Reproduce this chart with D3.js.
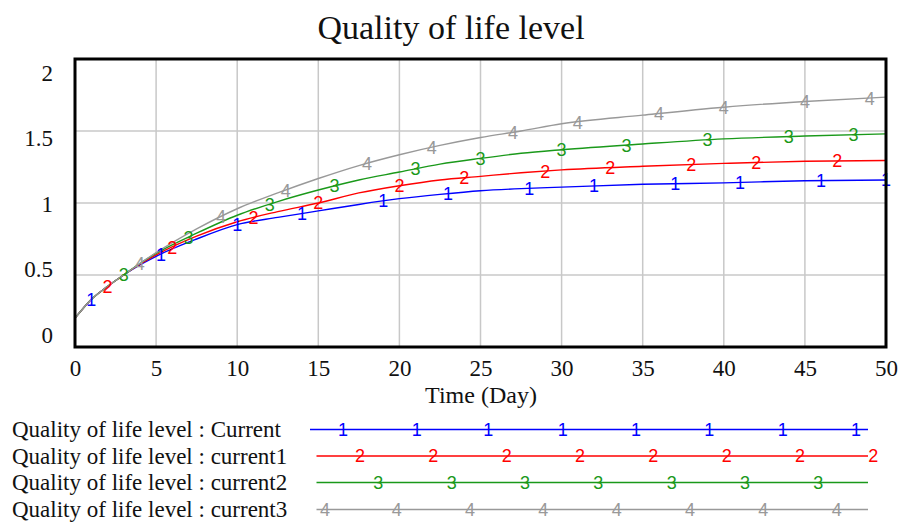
<!DOCTYPE html>
<html><head><meta charset="utf-8">
<script src="https://cdn.jsdelivr.net/npm/d3@7"></script>
<style>body{margin:0;background:#fff}svg{display:block}</style>
</head><body>
<svg id="c" width="901" height="523"></svg>
<script>
const title = "Quality of life level";
const xLabel = "Time (Day)";
const times = [0,1,2,3,4,5,7.5,10,12.5,15,17.5,20,22.5,25,27.5,30,35,40,45,50];
const current  = [0.2,0.33,0.42,0.5,0.57,0.63,0.75,0.85,0.90,0.945,0.99,1.03,1.06,1.085,1.10,1.11,1.13,1.14,1.155,1.16];
const current1 = [0.2,0.33,0.42,0.5,0.575,0.64,0.77,0.87,0.94,1.0,1.07,1.12,1.16,1.185,1.21,1.23,1.255,1.275,1.29,1.295];
const current2 = [0.2,0.33,0.42,0.5,0.58,0.65,0.79,0.915,1.01,1.09,1.16,1.215,1.27,1.31,1.345,1.37,1.41,1.445,1.465,1.48];
const current3 = [0.2,0.33,0.42,0.5,0.58,0.655,0.82,0.96,1.07,1.17,1.26,1.335,1.40,1.455,1.50,1.55,1.61,1.665,1.705,1.735];
const seriesNames = ["Quality of life level : Current","Quality of life level : current1","Quality of life level : current2","Quality of life level : current3"];
const markerLabels = ["1","2","3","4"];
const markerTimes = [
  [1,5.3,10,14,19,23,28,32,37,41,46,50],
  [2,6,11,15,20,24,29,33,38,42,47],
  [3,7,12,16,21,25,30,34,39,44,48],
  [4,9,13,18,22,27,31,36,40,45,49]
];
const legendMarkerX = [
  [343,416.7,488.3,562.7,636,709.3,782.7,856],
  [360,433.3,506.7,580,653.3,726.7,800,873.3],
  [378.3,451.7,525,598.3,671.7,745,818.3],
  [325,396.7,470,543.3,616.7,690,763.3,836.7]
];
const xTicks = [0,5,10,15,20,25,30,35,40,45,50];
const yTicks = [0,0.5,1,1.5,2];
const colors = ["#0000ff","#ff0000","#1a991a","#999999"];

const allSeries = [current,current1,current2,current3];
const svg = d3.select("#c");
const L = 75, R = 886, T = 59, B = 347;
const x = d3.scaleLinear().domain([0,50]).range([L,R]);
const y = d3.scaleLinear().domain([0,2]).range([B,T]);
const yLab = d3.scaleLinear().domain([0,2]).range([335,73]);
const serif = "'Liberation Serif','Times New Roman',serif";
const sans = "'Liberation Sans',Arial,sans-serif";

svg.append("text").attr("x",451).attr("y",27).attr("text-anchor","middle")
  .attr("dominant-baseline","central").attr("font-family",serif).attr("font-size",34)
  .attr("fill","#111").text(title);

// grid
const g = svg.append("g");
g.selectAll("line.vx").data(xTicks.slice(1,-1)).join("line")
  .attr("x1",d=>x(d)).attr("x2",d=>x(d)).attr("y1",T).attr("y2",B)
  .attr("stroke","#c8c8c8").attr("stroke-width",1.5);
g.selectAll("line.hy").data(yTicks.slice(1,-1)).join("line")
  .attr("x1",L).attr("x2",R).attr("y1",d=>y(d)).attr("y2",d=>y(d))
  .attr("stroke","#c8c8c8").attr("stroke-width",1.5);

// axes labels via d3 axes
const xAxis = svg.append("g").attr("transform",`translate(0,${B})`)
  .call(d3.axisBottom(x).tickValues(xTicks).tickSize(0).tickPadding(13).tickFormat(d3.format("d")));
xAxis.select(".domain").remove();
xAxis.selectAll("text").attr("font-family",serif).attr("font-size",23).attr("fill","#111");

const yAxis = svg.append("g").attr("transform",`translate(${L},0)`)
  .call(d3.axisLeft(yLab).tickValues(yTicks).tickSize(0).tickPadding(22).tickFormat(d=>String(d)));
yAxis.select(".domain").remove();
yAxis.selectAll("text").attr("font-family",serif).attr("font-size",23).attr("fill","#111");

svg.append("text").attr("x",481).attr("y",395).attr("text-anchor","middle")
  .attr("dominant-baseline","central").attr("font-family",serif).attr("font-size",24)
  .attr("fill","#111").text(xLabel);

// lines
const lineGen = d3.line().x((d,i)=>x(times[i])).y(d=>y(d)).curve(d3.curveMonotoneX);
const plot = svg.append("g");
function interp(arr,t){
  const i = Math.min(d3.bisectLeft(times,t), times.length-1);
  if (i===0) return arr[0];
  const t0=times[i-1], t1=times[i];
  return arr[i-1] + (arr[i]-arr[i-1])*(t-t0)/(t1-t0);
}
allSeries.forEach((s,k)=>{
  plot.append("path").attr("d",lineGen(s)).attr("fill","none")
    .attr("stroke",colors[k]).attr("stroke-width",1.4);
});
allSeries.forEach((s,k)=>{
  plot.selectAll(null).data(markerTimes[k]).join("text")
    .attr("x",t=>x(t)).attr("y",t=>y(interp(s,t))).attr("dy","0.36em")
    .attr("text-anchor","middle").attr("font-family",sans).attr("font-size",18)
    .attr("fill",colors[k]).text(markerLabels[k]);
});

// frame
svg.append("rect").attr("x",L).attr("y",T).attr("width",R-L).attr("height",B-T)
  .attr("fill","none").attr("stroke","#000").attr("stroke-width",3);

// legend
const legY = [429.5,456,482.5,509.5];
const legStart = [310,316.5,316.5,316.5];
const legEnd = 868;
seriesNames.forEach((n,k)=>{
  svg.append("text").attr("x",12).attr("y",legY[k]).attr("dominant-baseline","central")
    .attr("font-family",serif).attr("font-size",23).attr("fill","#111").text(n);
  svg.append("line").attr("x1",legStart[k]).attr("x2",legEnd).attr("y1",legY[k]).attr("y2",legY[k])
    .attr("stroke",colors[k]).attr("stroke-width",1.4);
  svg.selectAll(null).data(legendMarkerX[k]).join("text")
    .attr("x",d=>d).attr("y",legY[k]).attr("dy","0.36em").attr("text-anchor","middle")
    .attr("font-family",sans).attr("font-size",18).attr("fill",colors[k]).text(markerLabels[k]);
});
</script>
</body></html>
